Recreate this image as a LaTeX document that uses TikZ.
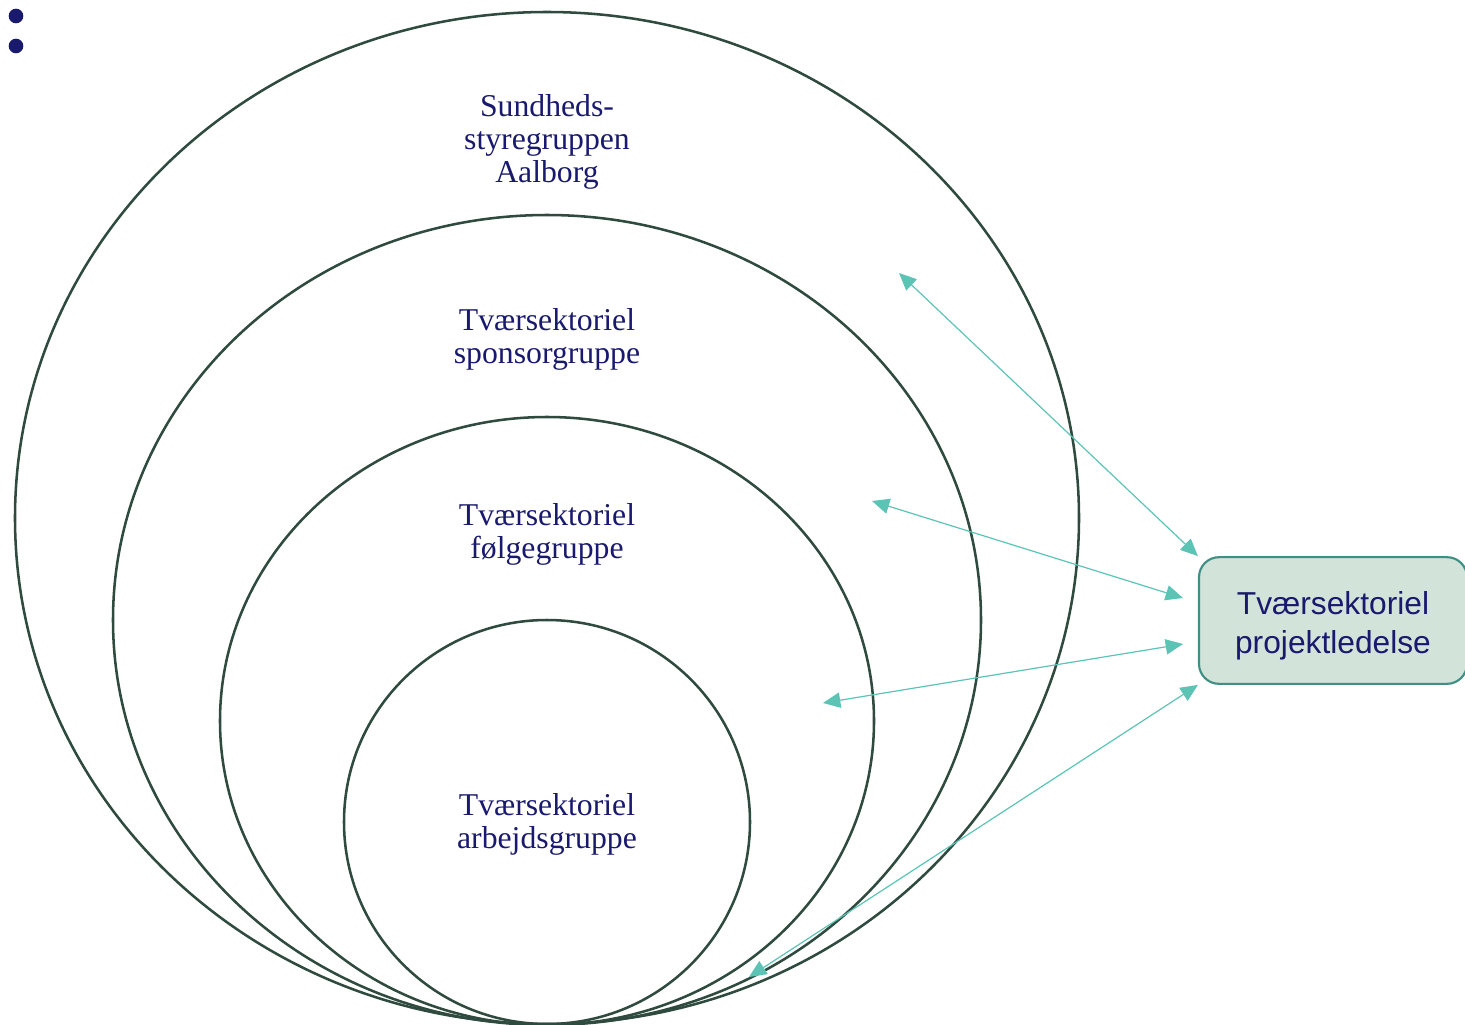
\documentclass[tikz,border=0pt]{standalone}
\usepackage{fontspec}
\usepackage{xcolor}
\usepackage{tikz}
\usetikzlibrary{arrows.meta}
\setmainfont{Liberation Serif}
\newfontfamily\boxfont{Liberation Sans}

\definecolor{navy}{RGB}{25,25,110}
\definecolor{ringline}{RGB}{47,74,63}
\definecolor{linkteal}{RGB}{91,196,181}
\definecolor{boxfill}{RGB}{210,227,218}
\definecolor{boxedge}{RGB}{63,143,132}

\tikzset{
  ring/.style={draw=ringline, line width=1.9pt},
  grouplabel/.style={text=navy, align=center, inner sep=0.75pt, font=\fontsize{23.8}{24.75}\selectfont},
  leadbox/.style={draw=boxedge, fill=boxfill, line width=1.6pt, rounded corners=15pt, text=navy, align=center,
    minimum width=201pt, minimum height=95pt, font=\boxfont\fontsize{23.8}{29.25}\selectfont},
  link/.style={draw=linkteal, line width=0.9pt, {Triangle[length=13pt,width=11.5pt]}-{Triangle[length=13pt,width=11.5pt]}},
  dot/.style={circle, fill=navy, inner sep=0pt, minimum size=11pt}
}

\begin{document}
\begin{tikzpicture}[x=0.75pt,y=0.75pt,yscale=-1,xscale=1]

\useasboundingbox (0,0) rectangle (1465,1025);

\node[dot] (dota) at (16,16) {};
\node[dot] (dotb) at (16,46) {};

\draw[ring] (547,518) ellipse [x radius=532, y radius=506];

\draw[ring] (547,620) ellipse [x radius=434, y radius=405];

\draw[ring] (547,721) ellipse [x radius=327, y radius=304];

\draw[ring] (547,822) ellipse [x radius=203, y radius=202];


\node[grouplabel] (styre) at (547,142) {Sundheds-\\styregruppen\\Aalborg};

\node[grouplabel] (sponsor) at (547,339) {Tværsektoriel\\sponsorgruppe};

\node[grouplabel] (foelge) at (547,534) {Tværsektoriel\\følgegruppe};

\node[grouplabel] (arbejd) at (547,824) {Tværsektoriel\\arbejdsgruppe};

\node[leadbox] (ledelse) at (1333,620.5) {\rule{0pt}{25pt}Tværsektoriel\\projektledelse};

% free ends inside the rings
\coordinate (instyre) at (899,273);
\coordinate (insponsor) at (872,501);
\coordinate (infoelge) at (823,703);
\coordinate (inarbejd) at (749,977);

% ends beside the box
\coordinate (bsponsor) at (1183,598);
\coordinate (bfoelge) at (1183,644);

\draw[link] (instyre) -- (ledelse.north west);

\draw[link] (insponsor) -- (bsponsor);

\draw[link] (infoelge) -- (bfoelge);

\draw[link] (inarbejd) -- (ledelse.south west);

\end{tikzpicture}
\end{document}
